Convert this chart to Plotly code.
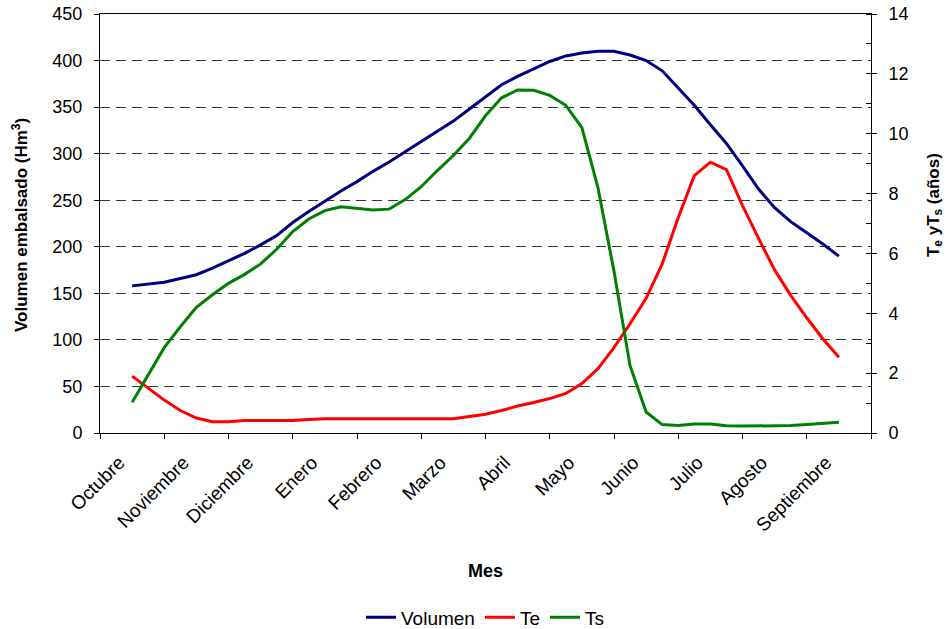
import plotly.graph_objects as go

# --- Data -------------------------------------------------------------
meses = ["Octubre", "Noviembre", "Diciembre", "Enero", "Febrero", "Marzo",
         "Abril", "Mayo", "Junio", "Julio", "Agosto", "Septiembre"]

# time in months (0 = Octubre), quarter-month samples
t = [0.0, 0.25, 0.5, 0.75, 1.0, 1.25, 1.5, 1.75, 2.0, 2.25, 2.5, 2.75,
     3.0, 3.25, 3.5, 3.75, 4.0, 4.25, 4.5, 4.75, 5.0, 5.25, 5.5, 5.75,
     6.0, 6.25, 6.5, 6.75, 7.0, 7.25, 7.5, 7.75, 8.0, 8.25, 8.5, 8.75,
     9.0, 9.25, 9.5, 9.75, 10.0, 10.25, 10.5, 10.75, 11.0]

volumen = [158, 160, 162, 166, 170, 177, 185, 193, 202, 212, 226, 238,
           249, 260, 270, 281, 291, 302, 313, 324, 335, 348, 361, 374,
           383, 391, 399, 405, 408, 410, 410, 406, 400, 389, 371, 352,
           331, 311, 287, 262, 242, 227, 215, 203, 190]

te = [1.9, 1.5, 1.1, 0.75, 0.5, 0.38, 0.38, 0.42, 0.42, 0.42, 0.42, 0.45,
      0.48, 0.48, 0.48, 0.48, 0.48, 0.48, 0.48, 0.48, 0.48, 0.55, 0.63, 0.75,
      0.9, 1.02, 1.15, 1.32, 1.65, 2.15, 2.85, 3.65, 4.5, 5.65, 7.2, 8.6,
      9.05, 8.8, 7.6, 6.5, 5.45, 4.6, 3.85, 3.15, 2.53]

ts = [1.03, 1.95, 2.85, 3.55, 4.2, 4.62, 5.0, 5.3, 5.65, 6.14, 6.73, 7.15,
      7.43, 7.56, 7.51, 7.45, 7.48, 7.8, 8.23, 8.77, 9.27, 9.85, 10.6, 11.2,
      11.46, 11.45, 11.28, 10.95, 10.2, 8.2, 5.4, 2.25, 0.7, 0.28, 0.25, 0.3,
      0.3, 0.24, 0.23, 0.23, 0.23, 0.25, 0.28, 0.32, 0.36]

# --- Figure -------------------------------------------------------------
FONT = "Liberation Sans, Arial, sans-serif"

fig = go.Figure()
fig.add_trace(go.Scatter(x=t, y=volumen, name="Volumen", mode="lines",
                         line=dict(color="#000080", width=3), yaxis="y"))
fig.add_trace(go.Scatter(x=t, y=te, name="Te", mode="lines",
                         line=dict(color="#FF0000", width=3), yaxis="y2"))
fig.add_trace(go.Scatter(x=t, y=ts, name="Ts", mode="lines",
                         line=dict(color="#008000", width=3), yaxis="y2"))

boundaries = [i - 0.5 for i in range(len(meses) + 1)]
label_pos = [i - 0.2 for i in range(len(meses))]

fig.update_layout(
    width=948, height=629, autosize=False,
    margin=dict(l=100, r=77, t=14, b=196, autoexpand=False),
    paper_bgcolor="white", plot_bgcolor="white",
    font=dict(family=FONT, color="black", size=18),
    showlegend=True,
    legend=dict(orientation="h", x=0.5, xanchor="center", y=-0.44,
                yanchor="middle", font=dict(size=19, family=FONT)),
    xaxis=dict(
        range=[-0.5, 11.5], tickmode="array",
        tickvals=label_pos, ticktext=meses,
        tickangle=-45, ticks="", showgrid=False, zeroline=False,
        showline=True, linecolor="black", linewidth=1, mirror=True,
        tickfont=dict(size=19), ticklabelstandoff=10, automargin=False,
        minor=dict(tickmode="array", tickvals=boundaries, ticks="outside",
                   ticklen=5, tickcolor="black", showgrid=False),
    ),
    yaxis=dict(
        range=[0, 450], dtick=50, ticks="outside", ticklen=5,
        tickcolor="black", showline=True, linecolor="black", linewidth=1,
        showgrid=True, gridcolor="#333333", griddash="10px,6px", gridwidth=1,
        zeroline=False, tickfont=dict(size=18), automargin=False,
        ticklabelstandoff=8, ticklabeloverflow="allow",
    ),
    yaxis2=dict(
        range=[0, 14], dtick=2, overlaying="y", side="right",
        ticks="outside", ticklen=5, tickcolor="black",
        showline=True, linecolor="black", linewidth=1,
        showgrid=False, zeroline=False, tickfont=dict(size=18),
        automargin=False, ticklabelstandoff=8, ticklabeloverflow="allow",
        minor=dict(dtick=1, ticks="inside", ticklen=5, tickcolor="black",
                   showgrid=False),
    ),
    annotations=[
        dict(text="<b>Mes</b>", x=0.5, y=-0.329, xref="paper", yref="paper",
             xanchor="center", yanchor="middle", showarrow=False,
             font=dict(size=18)),
        dict(text="<b>Volumen embalsado (Hm<sup>3</sup>)</b>", x=-0.104,
             y=0.496, xref="paper", yref="paper", xanchor="center",
             yanchor="middle", textangle=-90, showarrow=False,
             font=dict(size=17)),
        dict(text="<b>T<sub>e</sub> yT<sub>s</sub> (años)</b>", x=1.083,
             y=0.544, xref="paper", yref="paper", xanchor="center",
             yanchor="middle", textangle=-90, showarrow=False,
             font=dict(size=17)),
    ],
)

# remove the browser's default 8px body margin so the figure fills the window
fig.write_html("out.html",
               config={"displayModeBar": False},
               post_script="document.body.style.margin='0';"
                           "document.body.style.overflow='hidden';")
